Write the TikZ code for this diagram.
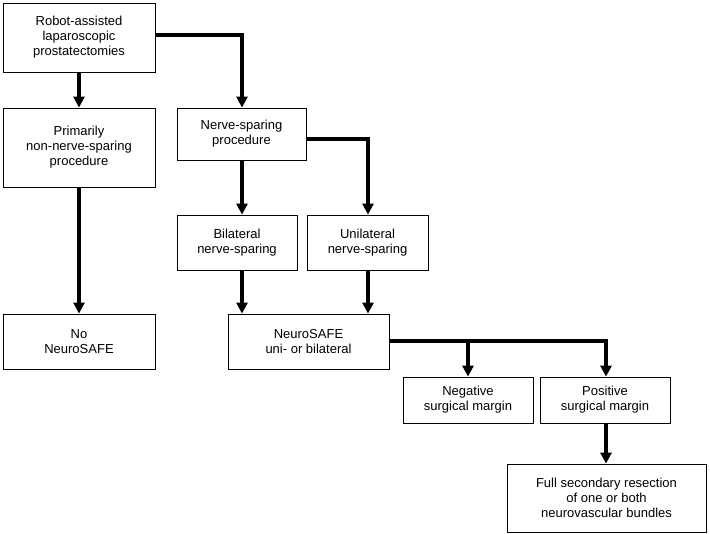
\documentclass[tikz,border=0pt]{standalone}
\usepackage{fontspec}
\setmainfont{Liberation Sans}
\usetikzlibrary{arrows.meta}
\begin{document}
\begin{tikzpicture}[x=1pt,y=-1pt,
 bx/.style={draw,line width=0.8pt,align=center,font=\fontsize{13}{15}\selectfont,inner sep=0pt},
 ar/.style={line width=3.5pt,-{Triangle[width=11pt,length=11pt]}}]
\useasboundingbox (0,0) rectangle (710,534);
\node[bx,minimum width=152,minimum height=69] (a) at (79,37.5) {Robot-assisted\\laparoscopic\\prostatectomies};
\node[bx,minimum width=152,minimum height=79] (b) at (79,147.5) {Primarily\\non-nerve-sparing\\procedure};
\node[bx,minimum width=129,minimum height=52] (c) at (241.5,134) {Nerve-sparing\\procedure};
\node[bx,minimum width=120,minimum height=55] (d) at (237,242.5) {Bilateral\\nerve-sparing};
\node[bx,minimum width=121,minimum height=55] (e) at (367.5,242.5) {Unilateral\\nerve-sparing};
\node[bx,minimum width=152,minimum height=55] (f) at (79,341.5) {No\\NeuroSAFE};
\node[bx,minimum width=161,minimum height=55] (g) at (308.5,341.5) {NeuroSAFE\\uni- or bilateral};
\node[bx,minimum width=130,minimum height=46] (h) at (468,400) {Negative\\surgical margin};
\node[bx,minimum width=130,minimum height=46] (i) at (605,400) {Positive\\surgical margin};
\node[bx,minimum width=199,minimum height=68] (j) at (606.5,498) {Full secondary resection\\of one or both\\neurovascular bundles};
\draw[ar] (a.east|-0,35) -| (c.north-|242,0);
\draw[ar] (a.south) -- (b.north);
\draw[ar] (b.south) -- (f.north);
\draw[ar] (c.east|-0,139) -| (e.north-|368,0);
\draw[ar] (c.south-|242,0) -- (d.north-|242,0);
\draw[ar] (d.south-|242,0) -- (g.north-|242,0);
\draw[ar] (e.south-|368,0) -- (g.north-|368,0);
\draw[ar] (g.east|-0,341) -| (i.north-|606,0);
\draw[ar] (468,341) -- (h.north);
\draw[ar] (i.south-|606,0) -- (j.north-|606,0);
\end{tikzpicture}
\end{document}
